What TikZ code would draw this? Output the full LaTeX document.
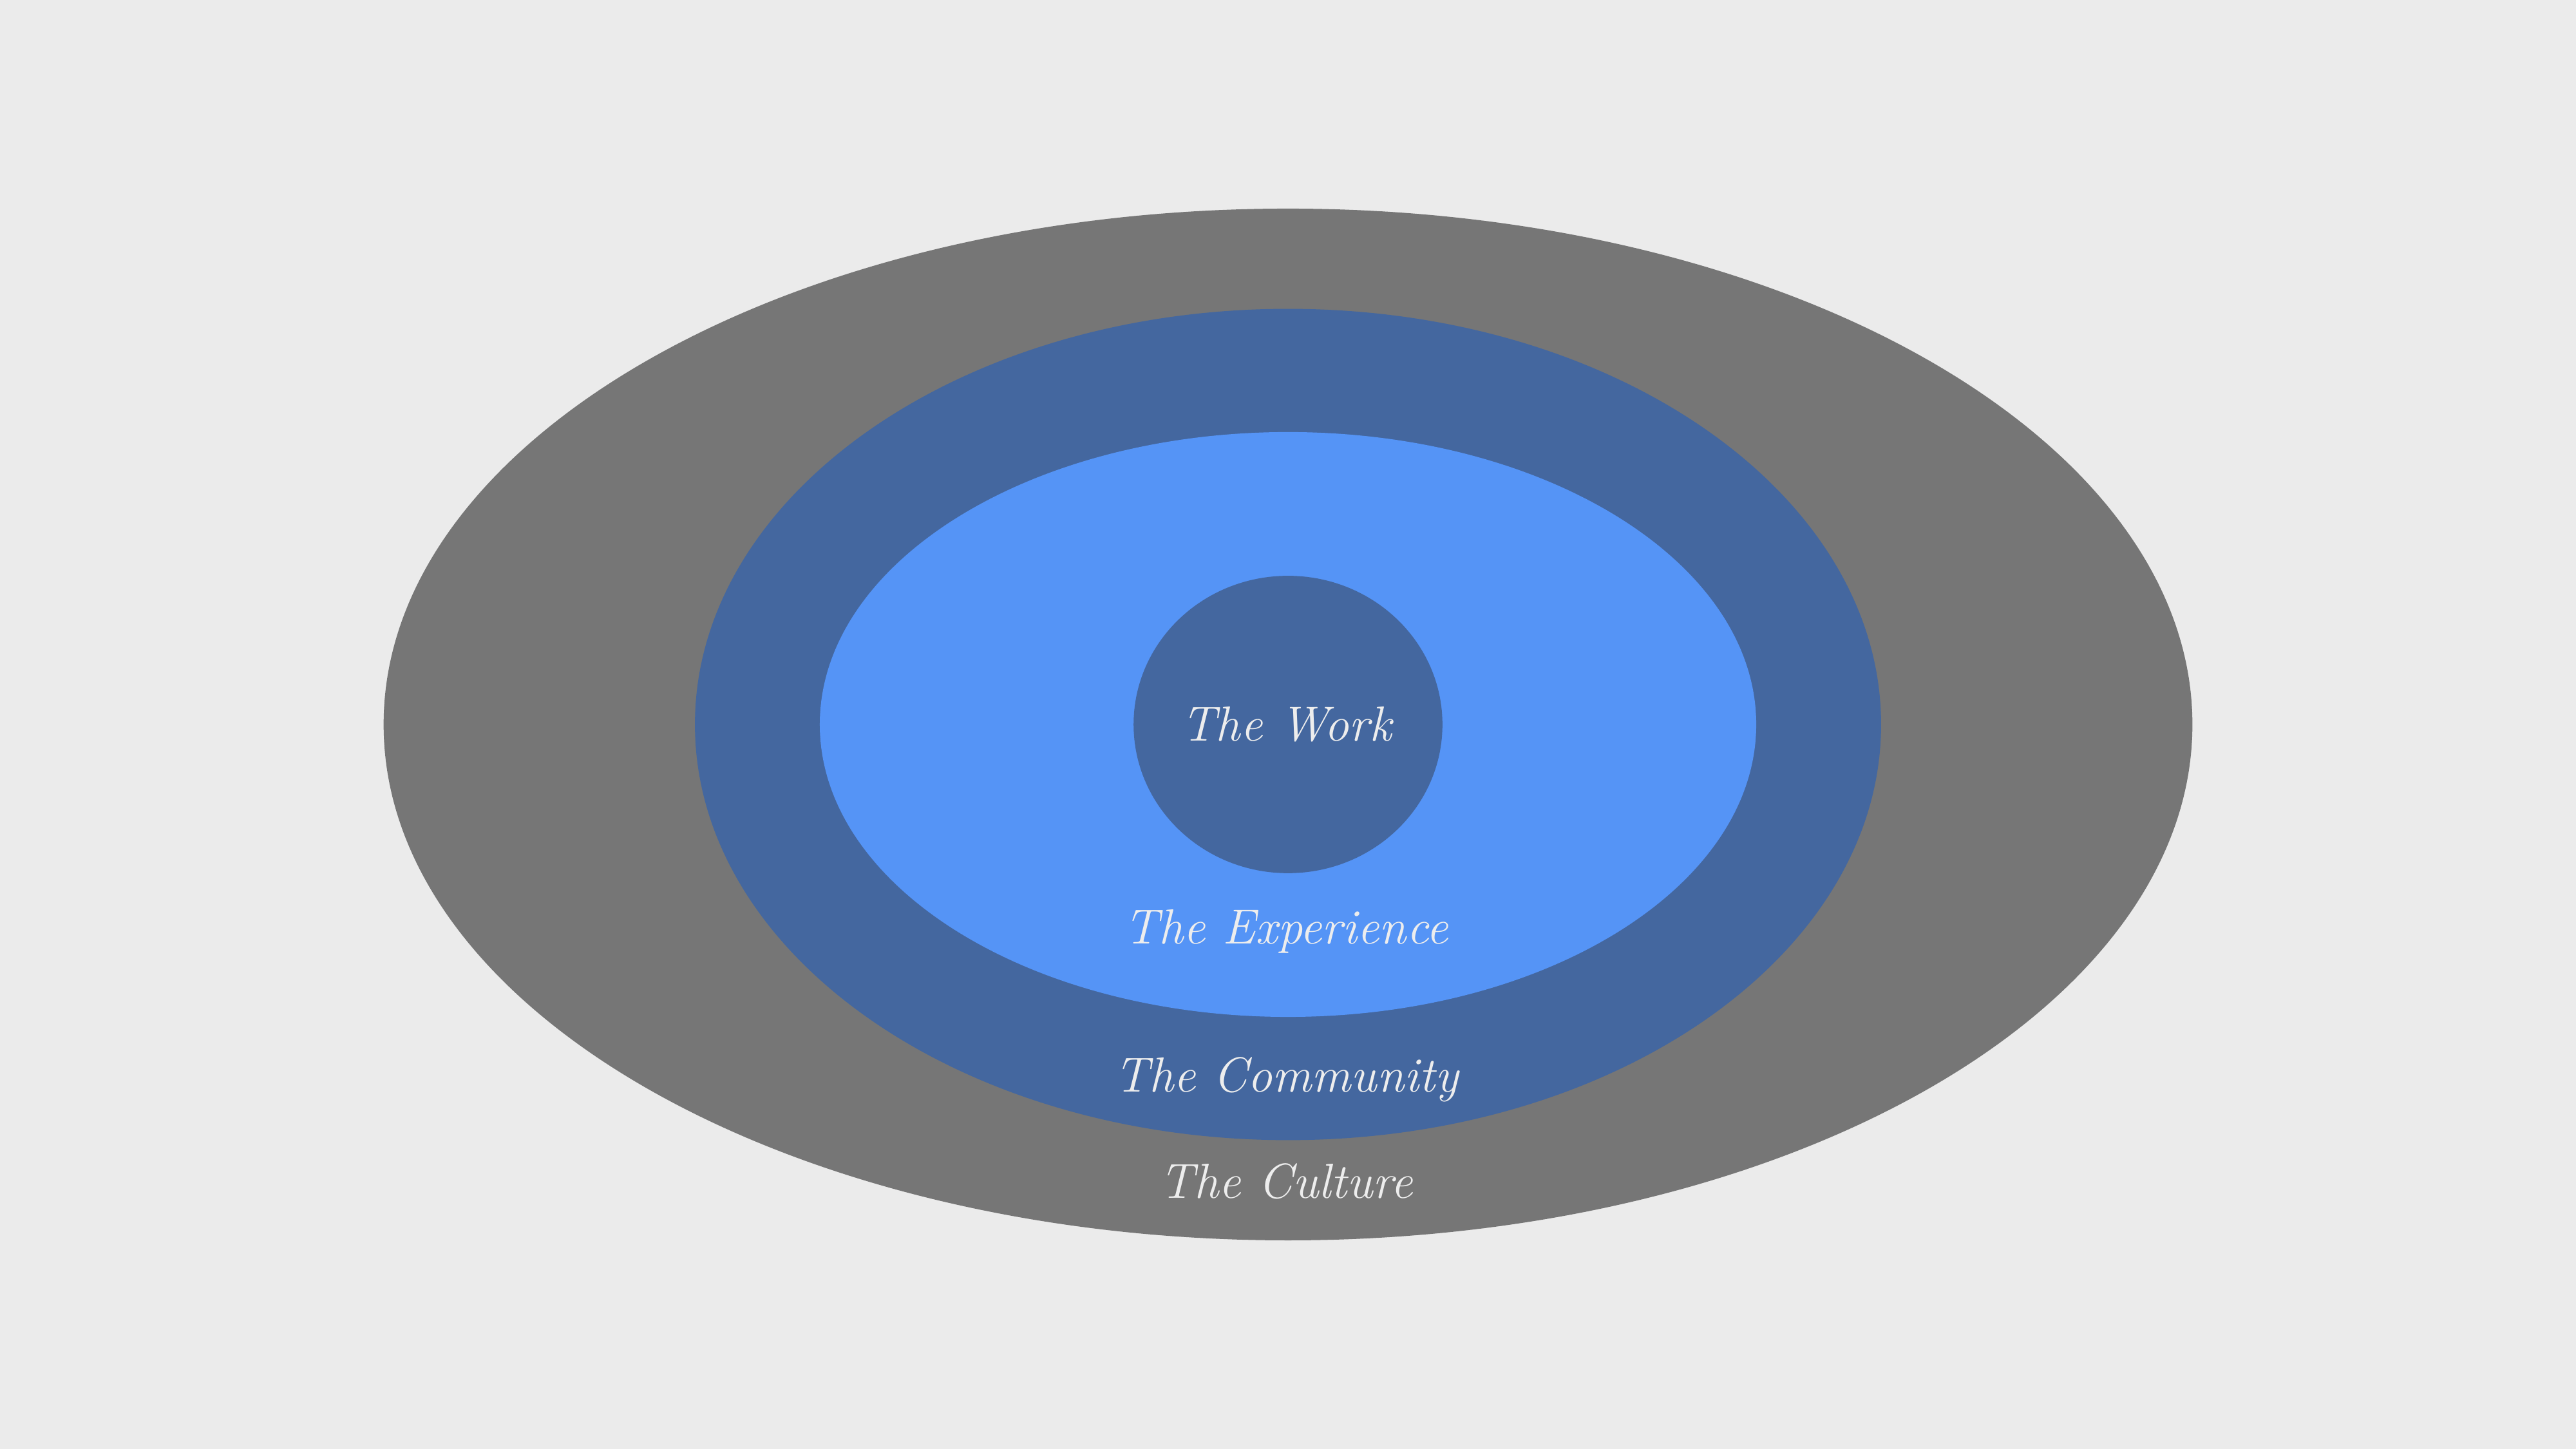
\documentclass[tikz,border=0pt]{standalone}
\definecolor{bg}{HTML}{EBEBEB}
\definecolor{culture}{HTML}{767676}
\definecolor{darkblue}{HTML}{44679F}
\definecolor{lightblue}{HTML}{5594F6}
\definecolor{txt}{HTML}{EDEDED}
\begin{document}
\begin{tikzpicture}[x=1pt,y=1pt,
  lbl/.style={text=txt,font=\fontsize{30}{36}\selectfont\itshape,inner sep=0pt}]
\fill[bg] (0,0) rectangle (1568,882);
\useasboundingbox (0,0) rectangle (1568,882);
\fill[culture] (784,441) ellipse [x radius=550.5, y radius=314];
\fill[darkblue] (784,441) ellipse [x radius=361, y radius=253];
\fill[lightblue] (784,441) ellipse [x radius=285, y radius=178];
\fill[darkblue] (784,441) ellipse [x radius=94, y radius=90.5];
\node[lbl] (work) at (783,441) {The Work};
\node[lbl] (experience) at (783,315) {The Experience};
\node[lbl] (community) at (783,225) {The Community};
\node[lbl] (culture) at (783,163) {The Culture};
\end{tikzpicture}
\end{document}
